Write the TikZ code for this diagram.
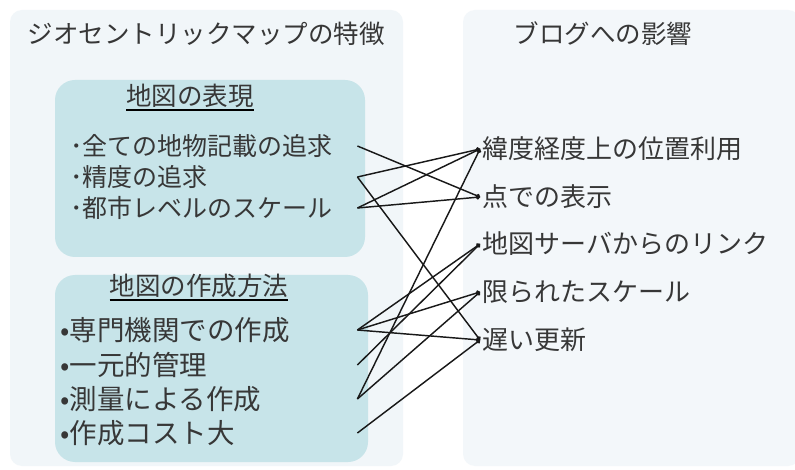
\documentclass[tikz,border=0pt]{standalone}
\usepackage{fontspec}
\setmainfont{Noto Sans CJK JP}
\usetikzlibrary{arrows.meta}
\definecolor{panelL}{RGB}{241,246,249}
\definecolor{panelR}{RGB}{243,247,250}
\definecolor{boxfill}{RGB}{199,228,233}
\definecolor{txt}{RGB}{55,55,55}
\definecolor{wire}{RGB}{25,25,25}
\tikzset{
  panel/.style={rounded corners=12pt, draw=none},
  innerbox/.style={rounded corners=20pt, fill=boxfill, draw=none},
  ttl/.style={inner sep=0pt, text=txt, font=\fontsize{25.5}{28}\selectfont},
  item/.style={inner sep=0pt, anchor=west, align=left, text=txt, font=\fontsize{25}{28}\selectfont},
  ritem/.style={inner xsep=2.5pt, inner ysep=0pt, anchor=west, text=txt, font=\fontsize{26}{28}\selectfont},
  wireline/.style={draw=wire, line width=1.45pt, -{Circle[length=4.5pt]}},
}
\begin{document}
\begin{tikzpicture}[x=1pt,y=-1pt]
\useasboundingbox (0,0) rectangle (795,470);
\fill[white] (0,0) rectangle (795,470);
% panels
\fill[panelL, panel] (10,10) rectangle (403,466);
\fill[panelR, panel] (463,10) rectangle (800,466);
\fill[innerbox] (55,80) rectangle (365,257);
\fill[innerbox] (55,275) rectangle (368,462);
% titles
\node[ttl] (tl) at (206,34) {ジオセントリックマップの特徴};
\node[ttl] (tr) at (603,34) {ブログへの影響};
\node[ttl] (t1) at (190,96) {地図の表現};
\node[ttl] (t2) at (199,286) {地図の作成方法};
\draw[line width=1.8pt, draw=black] ([yshift=-2pt]t1.south west) -- ([yshift=-2pt]t1.south east);
\draw[line width=1.8pt, draw=black] ([yshift=-2pt]t2.south west) -- ([yshift=-2pt]t2.south east);
% left top items
\node[item, text width=287pt] (l1) at (70,146) {･全ての地物記載の追求};
\node[item, text width=287pt] (l2) at (70,177) {･精度の追求};
\node[item, text width=287pt] (l3) at (70,208) {･都市レベルのスケール};
% left bottom items
\node[item, text width=297pt, font=\fontsize{27.5}{30}\selectfont] (b1) at (60,330) {•専門機関での作成};
\node[item, text width=297pt, font=\fontsize{27.5}{30}\selectfont] (b2) at (60,365) {•一元的管理};
\node[item, text width=297pt, font=\fontsize{27.5}{30}\selectfont] (b3) at (60,399) {•測量による作成};
\node[item, text width=297pt, font=\fontsize{27.5}{30}\selectfont] (b4) at (60,433) {•作成コスト大};
% right items
\node[ritem] (r1) at (480,149) {緯度経度上の位置利用};
\node[ritem] (r2) at (480,197) {点での表示};
\node[ritem] (r3) at (480,244) {地図サーバからのリンク};
\node[ritem] (r4) at (480,292) {限られたスケール};
\node[ritem] (r5) at (480,340) {遅い更新};
% connectors
\draw[wireline] (l1.east) -- (r2.west);
\draw[wireline] (l2.east) -- (r1.west);
\draw[wireline] (l2.east) -- (r5.west);
\draw[wireline] (l3.east) -- (r1.west);
\draw[wireline] (l3.east) -- (r2.west);
\draw[wireline] (b1.east) -- (r3.west);
\draw[wireline] (b1.east) -- (r4.west);
\draw[wireline] (b1.east) -- (r5.west);
\draw[wireline] (b2.east) -- (r3.west);
\draw[wireline] (b3.east) -- (r1.west);
\draw[wireline] (b3.east) -- (r4.west);
\draw[wireline] (b4.east) -- (r5.west);
\end{tikzpicture}
\end{document}
